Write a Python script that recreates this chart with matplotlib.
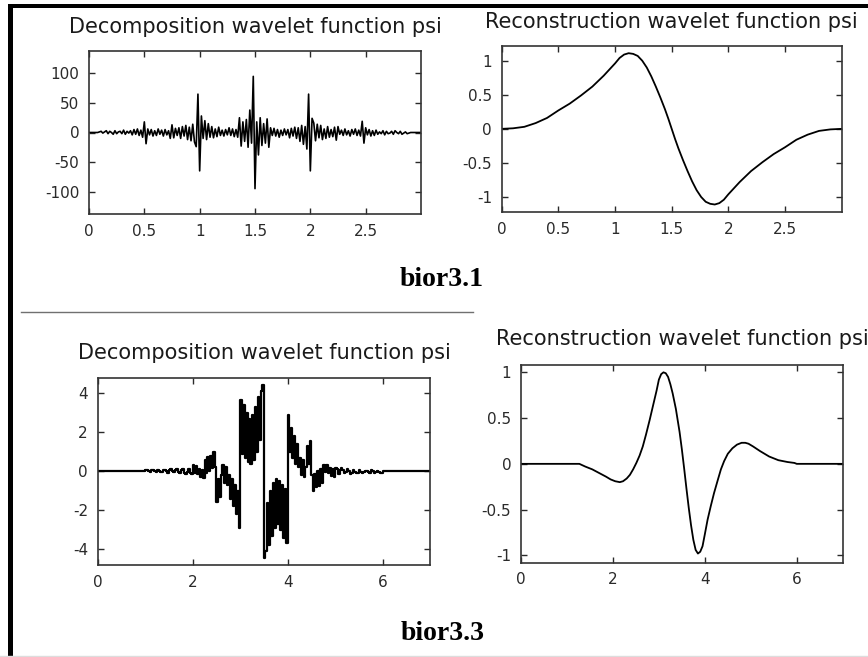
import numpy as np
import matplotlib
matplotlib.use('Agg')
import matplotlib.pyplot as plt
from matplotlib.patches import Rectangle
from matplotlib.lines import Line2D

W, H = 868, 657

# bior3.1 decomposition psi, one value per 1/64 step on [0, 3]
dec31 = [
    0, 0, 0, 0, 0, 0, 1, 2, -1, 1, 3, -2, 2, 0, -3, 3,
    -2, 1, 2, -2, 4, -3, 2, -1, 3, -4, 5, -3, 6, -5, 4, -8,
    18, -19, 6, -4, 5, -6, 3, -5, 6, -3, 4, -6, 5, -4, 3, -10,
    13, -9, 7, -5, 8, -10, 10, -6, 12, -12, 9, -14, 14, -16, -24, 65,
    -65, 28, -10, 20, -12, 15, -8, 10, -9, 6, -7, 9, -5, 4, -6, 5,
    -4, 8, -5, 6, -7, 5, -8, 25, -23, 18, -15, 22, -25, 38, -18, 95,
    -95, 18, -38, 25, -22, 15, -18, 23, -25, 8, -5, 7, -6, 5, -8, 4,
    -5, 6, -4, 5, -9, 7, -6, 9, -10, 8, -15, 12, -20, 10, -28, 65,
    -65, 24, 16, -14, 14, -9, 12, -12, 6, -10, 10, -8, 5, -7, 9, -13,
    10, -3, 4, -5, 6, -4, 3, -6, 5, -3, 6, -5, 4, -6, 19, -18,
    8, -4, 5, -6, 3, -5, 4, -3, 1, -2, 3, -4, 2, -2, -1, 2,
    -3, 3, 0, -2, 2, -3, -1, 1, -2, -1, 0, 0, 0, 0, 0, 0,
    0,
]

# bior3.1 reconstruction psi
rec31_x = [0, 0.1, 0.2, 0.3, 0.4, 0.5, 0.6, 0.7, 0.8, 0.9, 0.95, 1.0, 1.04, 1.08,
           1.12, 1.16, 1.2, 1.24, 1.28, 1.32, 1.36, 1.4, 1.44, 1.47, 1.5, 1.53,
           1.56, 1.6, 1.64, 1.68, 1.72, 1.76, 1.8, 1.84, 1.88, 1.92, 1.96, 2.0,
           2.05, 2.1, 2.2, 2.3, 2.4, 2.5, 2.6, 2.7, 2.8, 2.9, 3.0]
rec31_y = [0, 0.008, 0.03, 0.085, 0.16, 0.27, 0.37, 0.49, 0.62, 0.78, 0.87, 0.96, 1.04, 1.09,
           1.11, 1.10, 1.07, 1.00, 0.90, 0.77, 0.62, 0.46, 0.29, 0.15, 0, -0.15,
           -0.29, -0.46, -0.62, -0.77, -0.90, -1.00, -1.07, -1.10, -1.11, -1.09, -1.04, -0.96,
           -0.87, -0.78, -0.62, -0.49, -0.37, -0.27, -0.16, -0.085, -0.03, -0.008, 0]

# bior3.3 decomposition psi, one value per 1/32 step on [0, 7] (drawn as steps)
dec33 = [0.0] * 32 + [
    0.06, 0.08, 0.02, -0.04, 0.05, 0.07, 0.0, -0.05, 0.06, 0.03, -0.04, -0.02, 0.05, 0.08, 0.01, -0.06,
    0.07, 0.1, 0.02, -0.05, 0.06, 0.12, -0.02, -0.1, 0.05, 0.1, -0.08, -0.15, -0.05, 0.12, -0.1, -0.15,
    0.3, -0.1, 0.25, -0.15, 0.1, -0.3, 0.05, -0.35, 0.6, -0.1, 0.75, 0.0, 0.8, 0.15, 1.0, 0.2,
    -1.55, -0.4, -1.3, -0.2, 0.3, -0.6, 0.2, -0.7, -0.2, -1.4, -0.4, -1.8, -0.7, -2.2, -1.0, -2.9,
    3.65, 0.9, 3.4, 0.7, 3.0, 0.5, 2.7, 0.4, 2.9, 0.6, 3.3, 1.0, 3.8, 1.6, 4.1, 4.45,
    -4.45, -4.1, -1.6, -3.8, -1.0, -3.3, -0.6, -2.9, -0.4, -2.7, -0.5, -3.0, -0.7, -3.4, -0.9, -3.65,
    2.9, 1.0, 2.2, 0.7, 1.8, 0.4, 1.4, 0.2, 0.7, -0.2, 0.6, -0.3, 0.2, 1.3, 0.4, 1.55,
    -0.2, -1.0, -0.15, -0.8, 0.0, -0.75, 0.1, -0.6, 0.35, -0.05, 0.3, -0.1, 0.15, -0.25, 0.1, -0.3,
    0.15, 0.1, -0.12, 0.05, 0.15, 0.08, -0.1, -0.05, 0.1, 0.02, -0.12, -0.06, 0.05, -0.02, -0.1, -0.07,
    0.06, -0.01, -0.08, -0.05, 0.02, 0.04, -0.03, -0.06, 0.05, 0.0, -0.07, -0.05, 0.04, -0.02, -0.08, -0.06,
] + [0.0] * 33

# bior3.3 reconstruction psi
rec33_x = [0, 1.27, 1.40, 1.55, 1.70, 1.85, 1.95, 2.05, 2.15, 2.22, 2.30, 2.37, 2.44, 2.51,
           2.58, 2.65, 2.72, 2.80, 2.87, 2.95, 3.00, 3.05, 3.10, 3.15, 3.20, 3.25, 3.30,
           3.37, 3.45, 3.50, 3.55, 3.60, 3.65, 3.70, 3.75, 3.80, 3.85, 3.90, 3.95, 4.00,
           4.06, 4.13, 4.20, 4.28, 4.35, 4.42, 4.50, 4.60, 4.70, 4.80, 4.88, 4.95, 5.05,
           5.20, 5.40, 5.60, 5.80, 5.95, 6.0, 7.0]
rec33_y = [0, 0, -0.03, -0.06, -0.10, -0.14, -0.17, -0.19, -0.20, -0.19, -0.16, -0.12, -0.06, 0.01,
           0.09, 0.19, 0.32, 0.48, 0.63, 0.80, 0.92, 0.98, 1.00, 0.99, 0.95, 0.87, 0.77,
           0.60, 0.35, 0.16, -0.05, -0.27, -0.48, -0.67, -0.83, -0.94, -0.98, -0.96, -0.90, -0.77,
           -0.61, -0.46, -0.32, -0.18, -0.06, 0.03, 0.11, 0.17, 0.21, 0.23, 0.23, 0.22, 0.19,
           0.14, 0.08, 0.04, 0.02, 0.01, 0, 0]

x3_ticks = [0, 0.5, 1, 1.5, 2, 2.5]
x3_labels = ['0', '0.5', '1', '1.5', '2', '2.5']
x7_ticks = [0, 2, 4, 6]
x7_labels = ['0', '2', '4', '6']
y100_ticks = [-100, -50, 0, 50, 100]
y100_labels = ['-100', '-50', '0', '50', '100']
y1_ticks = [-1, -0.5, 0, 0.5, 1]
y1_labels = ['-1', '-0.5', '0', '0.5', '1']
y4_ticks = [-4, -2, 0, 2, 4]
y4_labels = ['-4', '-2', '0', '2', '4']

plt.rcParams['font.family'] = 'DejaVu Sans'
plt.rcParams['axes.unicode_minus'] = False

fig = plt.figure(figsize=(W / 100, H / 100), dpi=100)


def px_axes(x0, y0, x1, y1):
    return fig.add_axes([x0 / W, 1 - y1 / H, (x1 - x0) / W, (y1 - y0) / H])


def style(ax, xlim, ylim, xt, xl, yt, yl):
    ax.set_xlim(xlim)
    ax.set_ylim(ylim)
    ax.set_xticks(xt)
    ax.set_xticklabels(xl)
    ax.set_yticks(yt)
    ax.set_yticklabels(yl)
    ax.tick_params(direction='in', top=True, right=True, length=4, width=1,
                   labelsize=11, colors='#2a2a2a', pad=7)
    for s in ax.spines.values():
        s.set_linewidth(1.2)
        s.set_color('#333333')


def title(cx, base, text):
    fig.text(cx / W, 1 - base / H, text, ha='center', va='baseline',
             fontsize=15, color='#1a1a1a')


# top left
ax = px_axes(89, 51, 421, 214)
ax.plot(np.arange(len(dec31)) / 64, dec31, 'k', lw=1.2)
style(ax, (0, 3), (-138, 138), x3_ticks, x3_labels, y100_ticks, y100_labels)
title(255, 33, 'Decomposition wavelet function psi')

# top right
ax = px_axes(501.7, 45.7, 841.7, 212)
ax.plot(rec31_x, rec31_y, 'k', lw=1.3)
style(ax, (0, 3), (-1.22, 1.22), x3_ticks, x3_labels, y1_ticks, y1_labels)
title(671.7, 28.5, 'Reconstruction wavelet function psi')

# bottom left
ax = px_axes(97.7, 377.7, 430, 565)
ax.plot(np.arange(len(dec33)) / 32, dec33, 'k', lw=1.6, drawstyle='steps-post')
style(ax, (0, 7), (-4.8, 4.8), x7_ticks, x7_labels, y4_ticks, y4_labels)
title(264, 359, 'Decomposition wavelet function psi')

# bottom right
ax = px_axes(521, 365, 842.7, 562.7)
ax.plot(rec33_x, rec33_y, 'k', lw=1.3)
style(ax, (0, 7), (-1.08, 1.08), x7_ticks, x7_labels, y1_ticks, y1_labels)
title(682, 345, 'Reconstruction wavelet function psi')

fig.text(442 / W, 1 - 286 / H, 'bior3.1', ha='center', va='baseline',
         fontsize=20, fontweight='bold', family='Liberation Serif')
fig.text(443 / W, 1 - 640 / H, 'bior3.3', ha='center', va='baseline',
         fontsize=20, fontweight='bold', family='Liberation Serif')

# page frame and separators
fig.add_artist(Rectangle((8 / W, 1 - 8.3 / H), 1 - 8 / W, 4.3 / H,
                         transform=fig.transFigure, color='black', lw=0))
fig.add_artist(Rectangle((8 / W, 0), 4.5 / W, 1 - 4 / H,
                         transform=fig.transFigure, color='black', lw=0))
fig.add_artist(Line2D([21 / W, 473 / W], [1 - 312 / H, 1 - 312 / H],
                      transform=fig.transFigure, color='#707070', lw=1.0))
fig.add_artist(Line2D([0, 1], [1 - 655.5 / H, 1 - 655.5 / H],
                      transform=fig.transFigure, color='#dddddd', lw=1.0))

fig.savefig('out.png', dpi=100)
